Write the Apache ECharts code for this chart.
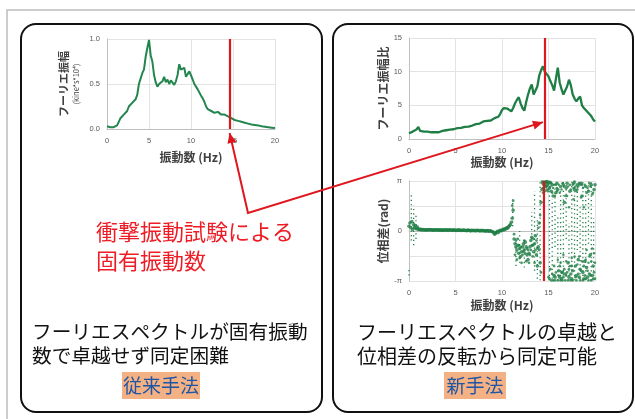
<!DOCTYPE html>
<html><head><meta charset="utf-8">
<script src="https://cdn.jsdelivr.net/npm/echarts@6/dist/echarts.min.js"></script>
<style>html,body{margin:0;padding:0;background:#fff}#c{width:635px;height:419px}</style>
</head><body><div id="c"></div>
<script>
// ---------------- data ----------------
const AMP_STEP = 0.2;      // Hz between samples of the amplitude spectra
const PHASE_STEP = 0.1;    // Hz between samples of the phase spectrum
const PHASE_ALT_START = 11.0;
const PHASE_ALT2_START = 14.0;
const naturalFreq = 14.6;  // Hz, from impact vibration test
const xTicks = [0, 5, 10, 15, 20];

// 従来手法: Fourier amplitude (kine*s*10^4), 0..20 Hz
const ampConventional = [
  0.03,0.02,0.02,0.02,0.02, 0.02,0.04,0.08,0.12,0.14,
  0.16,0.18,0.20,0.25,0.27, 0.29,0.27,0.33,0.38,0.50,
  0.56,0.62,0.66,0.80,0.90, 0.99,0.82,0.75,0.60,0.52,
  0.47,0.50,0.48,0.53,0.58, 0.52,0.55,0.50,0.54,0.52,
  0.49,0.53,0.60,0.72,0.66, 0.64,0.68,0.58,0.60,0.64,
  0.62,0.55,0.50,0.48,0.44, 0.42,0.37,0.34,0.30,0.25,
  0.22,0.21,0.20,0.19,0.18, 0.17,0.19,0.18,0.16,0.18,
  0.16,0.15,0.14,0.13,0.12, 0.11,0.10,0.09,0.09,0.08,
  0.08,0.07,0.07,0.06,0.06, 0.055,0.05,0.05,0.045,0.04,
  0.04,0.035,0.03,0.03,0.025, 0.02,0.02,0.015,0.015,0.01,
  0.01
];

// 新手法: Fourier amplitude ratio, 0..20 Hz
const ampRatio = [
  0.85,1.0,1.1,1.2,1.4, 1.8,1.2,1.15,1.1,1.1,
  1.1,1.05,1.0,1.05,1.0, 0.95,1.0,1.1,1.2,1.2,
  1.3,1.35,1.4,1.5,1.45, 1.55,1.6,1.7,1.65,1.75,
  1.8,1.75,1.85,1.9,2.0, 2.05,2.2,2.15,2.3,2.5,
  2.6,2.55,2.7,2.8,2.75, 2.95,3.1,3.2,3.3,3.7,
  4.3,4.6,4.5,4.5,4.3, 4.1,4.6,5.3,5.8,6.2,
  5.3,4.6,4.2,5.5,6.6, 7.5,8.1,6.6,7.2,7.8,
  9.4,10.2,10.8,10.0,9.8, 9.3,8.6,8.0,7.2,9.0,
  10.6,8.4,7.4,6.6,7.2, 7.8,8.8,8.0,6.6,6.0,
  5.6,6.0,6.3,5.0,4.6, 4.3,4.0,3.7,3.4,2.9,
  2.6
];

// 新手法: phase difference (rad), 0..20 Hz
const phaseMain = [
  0.3,0.5,0.2,0.6,0.1,0.4,0.2,0.35,0.15,0.25,
  0.1,0.12,0.08,0.1,0.07,0.09,0.06,0.08,0.07,0.06,
  0.08,0.07,0.09,0.06,0.08,0.07,0.05,0.08,0.06,0.07,
  0.06,0.08,0.05,0.07,0.06,0.04,0.07,0.05,0.06,0.08,
  0.05,0.07,0.04,0.06,0.08,0.05,0.06,0.04,0.07,0.05,
  0.06,0.03,0.05,0.07,0.04,0.06,0.03,0.05,0.04,0.06,
  0.03,0.05,0.02,0.04,0.06,0.03,0.01,0.04,0.02,0.05,
  0.03,0.01,0.04,0.02,0.05,0.03,0.0,0.02,0.04,0.01,
  0.03,0.0,0.02,-0.01,0.03,0.01,-0.02,0.02,0.0,-0.03,
  -0.05,-0.1,-0.2,-0.15,-0.08,-0.02,-0.1,0.0,0.04,0.01,
  0.05,0.1,0.07,0.14,0.12,0.2,0.18,0.26,0.33,0.4,
  0.55,0.8,1.3,-0.5,-0.8,-1.0,-1.2,-0.9,-1.4,-1.1,
  -1.6,-1.3,-1.0,-0.8,-1.2,-0.7,-1.0,-1.5,-1.8,-1.4,
  -1.0,-0.6,-0.4,-0.9,-1.3,-0.8,-0.3,-1.5,-2.2,-1.0,
  0.5,-2.0,1.8,2.6,3.0,2.9,3.05,2.8,3.1,2.9,
  3.0,2.7,3.05,2.5,2.9,2.2,-2.8,-2.9,2.4,3.0,
  2.6,-2.5,-2.9,2.8,-3.0,-2.6,2.9,1.8,-2.7,2.7,
  3.0,-2.0,-2.9,2.5,-2.7,-3.0,-2.5,3.0,2.6,-2.2,
  -2.8,2.9,-1.8,-2.9,-2.4,3.0,2.2,-2.6,-3.0,-1.9,
  2.8,-2.3,-2.9,2.5,-2.7,-1.5,2.9,-2.8,-2.2,2.6,
  2.9
];
// second scatter cluster, from 11.0 Hz
const phaseAlt = [
  null,1.6,1.9,-0.2,-1.5,-0.6,-1.8,-0.5,-0.9,-1.7,
  -1.0,-2.0,-1.5,-1.3,-0.6,-1.4,-1.9,-1.1,-1.2,-2.0,
  -1.5,-1.2,-0.9,-1.6,-0.5,-2.0,-1.2,-0.6,-1.1,0.2,
  -1.2,1.0,-2.6,3.1,2.7,3.1,2.85,3.1,2.6,3.1,
  -2.9,-3.0,-2.4,-3.1,-2.7,-3.1,-2.2,-3.1,-2.6,2.7,
  -3.1,-2.8,-2.2,-3.1,-2.6,-3.1,-2.9,-2.4,-3.1,-2.8,
  -2.6,-3.1,-2.4,2.9,-3.1,-2.2,-3.1,2.7,3.1,-2.9,
  -3.1,2.6,-2.7,3.0,-3.1,-2.5,2.9,-3.1,-2.2,-2.8,
  -3.0,2.4,-2.5,-3.1,3.0,-2.8,-3.1,2.3,-3.0,-2.6,
  -3.0
];
// third scatter cluster, from 14.0 Hz
const phaseAlt2 = [
  null,null,null,null,2.4,2.7,2.5,3.0,2.8,2.5,
  2.6,3.1,2.8,3.0,2.4,2.7,2.9,2.2,2.9,2.5,
  -1.8,2.9,2.4,-2.0,2.6,3.0,-1.5,2.8,2.2,-1.9,
  2.2,2.8,1.5,-2.2,2.6,-1.7,2.9,2.0,-1.6,2.8,
  2.5,-2.1,2.8,-1.6,2.9,2.1,-1.9,2.7,1.5,2.9,
  -1.8,-1.2,2.7,-2.0,-1.6,2.8,-1.9,-1.1,2.4,-1.4,
  -2.0
];
// vertical dotted streaks of phase points: frequency, low, high (rad)
const streakFreq = [0.0,0.25,0.5,0.75,11.15,11.5,11.9,12.4,13.2,13.5,13.8,14.1,15.1,15.4,15.7,16.0,16.3,16.6,16.9,17.2,17.5,17.8,18.1,18.4,18.7,19.0,19.3,19.6,19.85];
const streakLow  = [-2.8,-0.6,-0.9,-0.5,0.3,-2.2,-2.0,-2.3,-0.5,-2.5,-3.0,-3.1,-3.1,-3.0,-1.0,-3.1,-3.1,-2.8,-0.5,-3.1,-2.5,-3.1,-1.2,-3.0,-3.1,-3.1,-0.8,-3.1,-3.1];
const streakHigh = [-2.3,2.3,1.6,1.0,2.0,-0.3,0.0,-0.5,1.2,2.5,0.8,3.1,3.1,2.0,3.1,1.0,2.5,3.1,3.1,0.5,3.1,3.1,2.8,1.5,3.1,2.5,3.1,3.1,0.8];

// ---------------- helpers ----------------
const pairs = (arr, step, start) => arr.map((v, i) => [+(start + i * step).toFixed(2), v]).filter(p => p[1] !== null);
const FONT = '"Noto Sans CJK JP", "Noto Sans", sans-serif';
const GREEN = '#1f7e45';
const RED = '#e0161e';
const tickLabel = {fontSize: 7.5, color: '#595959', fontFamily: '"Liberation Sans", Arial, sans-serif'};
const axisLineStyle = {show: true, lineStyle: {color: '#bfbfbf', width: 1}};
const split = {show: true, lineStyle: {color: '#e3e3e3', width: 1}};
const titleStyle = {fontSize: 12, fontWeight: 'bold', color: '#404040', fontFamily: FONT};

function xAxisFor(grid, gap) {
  return {
    type: 'value', gridIndex: grid, min: 0, max: 20, interval: 5,
    axisLine: axisLineStyle, axisTick: {show: false}, splitLine: split,
    axisLabel: Object.assign({margin: 8}, tickLabel),
    name: '振動数 (Hz)', nameLocation: 'middle', nameGap: gap, nameTextStyle: titleStyle
  };
}
const redMark = (x) => ({
  silent: true, symbol: ['none', 'none'], label: {show: false},
  lineStyle: {color: RED, width: 2.2, type: 'solid'},
  data: [{xAxis: x}]
});

const chart = echarts.init(document.getElementById('c'), null, {renderer: 'canvas'});

const option = {
  animation: false,
  backgroundColor: '#ffffff',
  grid: [
    {left: 107, top: 39, width: 168, height: 90},
    {left: 409, top: 38, width: 186, height: 101},
    {left: 409, top: 181, width: 186, height: 100}
  ],
  xAxis: [xAxisFor(0, 22), xAxisFor(1, 17), xAxisFor(2, 18)],
  yAxis: [
    {
      type: 'value', gridIndex: 0, min: 0, max: 1, interval: 0.5,
      axisLine: axisLineStyle, axisTick: {show: false}, splitLine: split,
      axisLabel: Object.assign({margin: 7, formatter: v => v.toFixed(1)}, tickLabel),
      name: '{a|フーリエ振幅}\n{b|(kine*s*10⁴)}', nameLocation: 'middle', nameGap: 26,
      nameTextStyle: {rich: {
        a: {fontSize: 11, fontWeight: 'bold', color: '#404040', fontFamily: FONT, lineHeight: 15},
        b: {fontSize: 7.5, color: '#404040', fontFamily: FONT, lineHeight: 10}
      }}
    },
    {
      type: 'value', gridIndex: 1, min: 0, max: 15, interval: 5,
      axisLine: axisLineStyle, axisTick: {show: false}, splitLine: split,
      axisLabel: Object.assign({margin: 7}, tickLabel),
      name: 'フーリエ振幅比', nameLocation: 'middle', nameGap: 20, nameTextStyle: titleStyle
    },
    {
      type: 'value', gridIndex: 2, min: -Math.PI, max: Math.PI, interval: Math.PI / 2,
      axisLine: axisLineStyle, axisTick: {show: false}, splitLine: split,
      axisLabel: Object.assign({margin: 7, formatter: v => {
        if (Math.abs(v - Math.PI) < 1e-6) return 'π';
        if (Math.abs(v + Math.PI) < 1e-6) return '-π';
        if (Math.abs(v) < 1e-6) return '0';
        return '';
      }}, tickLabel),
      name: '位相差(rad)', nameLocation: 'middle', nameGap: 20, nameTextStyle: titleStyle
    }
  ],
  series: [
    {
      type: 'line', xAxisIndex: 0, yAxisIndex: 0, data: pairs(ampConventional, AMP_STEP, 0),
      showSymbol: false, lineStyle: {color: '#23864f', width: 2}, z: 3,
      markLine: redMark(naturalFreq)
    },
    {
      type: 'line', xAxisIndex: 1, yAxisIndex: 1, data: pairs(ampRatio, AMP_STEP, 0),
      showSymbol: false, lineStyle: {color: GREEN, width: 2.3}, z: 3,
      markLine: redMark(14.6)
    },
    {
      type: 'custom', xAxisIndex: 2, yAxisIndex: 2,
      data: streakFreq.map((f, i) => [f, streakLow[i], streakHigh[i]]),
      encode: {x: 0, y: [1, 2]}, z: 2,
      renderItem: (params, api) => {
        const a = api.coord([api.value(0), api.value(1)]);
        const b = api.coord([api.value(0), api.value(2)]);
        return {type: 'line', shape: {x1: a[0], y1: a[1], x2: b[0], y2: b[1]},
          style: {stroke: GREEN, lineWidth: 1.3, lineDash: [1.2, 3.2]}};
      }
    },
    {
      type: 'scatter', xAxisIndex: 2, yAxisIndex: 2, data: pairs(phaseMain, PHASE_STEP, 0),
      symbolSize: 3.6, itemStyle: {color: GREEN}, z: 3,
      markLine: redMark(14.5)
    },
    {
      type: 'scatter', xAxisIndex: 2, yAxisIndex: 2, data: pairs(phaseAlt, PHASE_STEP, PHASE_ALT_START),
      symbolSize: 2.8, itemStyle: {color: GREEN}, z: 3
    },
    {
      type: 'scatter', xAxisIndex: 2, yAxisIndex: 2, data: pairs(phaseAlt2, PHASE_STEP, PHASE_ALT2_START),
      symbolSize: 2.5, itemStyle: {color: GREEN}, z: 3
    }
  ]
};
chart.setOption(option);

// ---------------- annotations ----------------
const tipL = chart.convertToPixel({gridIndex: 0}, [naturalFreq, 0]); tipL[1] += 4;
const tipR = chart.convertToPixel({gridIndex: 1}, [14.4, 2.5]);
const bend = [248, 213];
function head(from, to) {
  const dx = to[0] - from[0], dy = to[1] - from[1];
  const L = Math.hypot(dx, dy), ux = dx / L, uy = dy / L;
  const len = 10, hw = 4.5;
  const bx = to[0] - ux * len, by = to[1] - uy * len;
  return {type: 'polygon', z: 20, shape: {points: [to, [bx - uy * hw, by + ux * hw], [bx + uy * hw, by - ux * hw]]},
    style: {fill: RED, stroke: null}};
}
function txt(x, y, s, size, color, align) {
  return {type: 'text', x: x, y: y, z: 20, style: {text: s, font: size + 'px ' + FONT, fill: color,
    align: align || 'left', verticalAlign: 'middle', textAlign: align || 'left', textVerticalAlign: 'middle'}};
}
chart.setOption({graphic: [
  {type: 'rect', z: -1, shape: {x: 7, y: 10, width: 700, height: 500}, style: {fill: null, stroke: '#bdbdbd', lineWidth: 1.5}},
  {type: 'rect', z: -1, shape: {x: 21, y: 24, width: 301, height: 388, r: 15}, style: {fill: null, stroke: '#111', lineWidth: 2}},
  {type: 'rect', z: -1, shape: {x: 333, y: 24, width: 300, height: 388, r: 15}, style: {fill: null, stroke: '#111', lineWidth: 2}},
  {type: 'polyline', z: 20, shape: {points: [tipL, bend, tipR]}, style: {stroke: RED, lineWidth: 2, fill: null}},
  head(bend, tipL), head(bend, tipR),
  txt(96, 232, '衝撃振動試験による', 22, '#ee1c25'),
  txt(96, 261, '固有振動数', 22, '#ee1c25'),
  txt(32, 332, 'フーリエスペクトルが固有振動', 19.7, '#111'),
  txt(32, 356, '数で卓越せず同定困難', 19.7, '#111'),
  txt(357, 332, 'フーリエスペクトルの卓越と', 20, '#111'),
  txt(357, 356, '位相差の反転から同定可能', 20, '#111'),
  {type: 'rect', z: 10, shape: {x: 122, y: 372, width: 78, height: 27}, style: {fill: '#f4b183'}},
  {type: 'rect', z: 10, shape: {x: 444, y: 372, width: 62, height: 27}, style: {fill: '#f4b183'}},
  txt(161, 386, '従来手法', 19, '#1f55a5', 'center'),
  txt(475, 386, '新手法', 19, '#1f55a5', 'center')
]});
</script>
</body></html>
